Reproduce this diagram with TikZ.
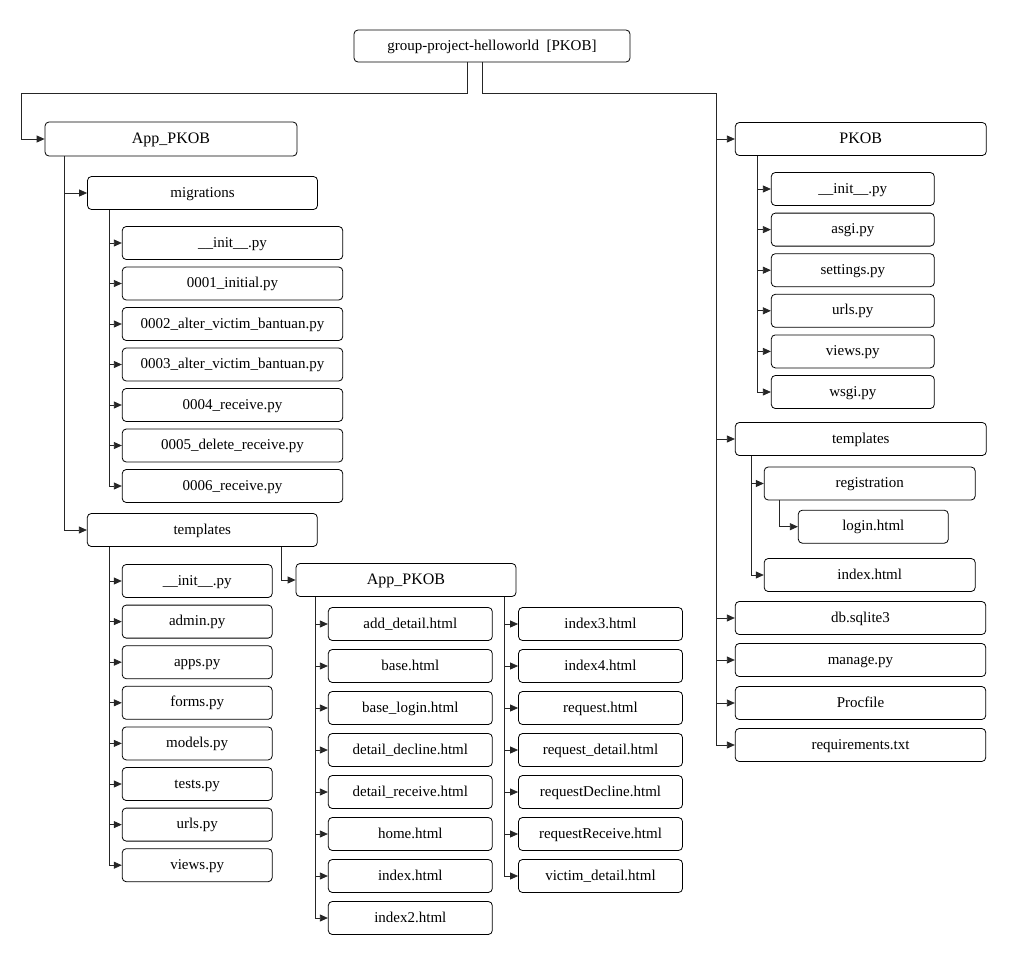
\documentclass[tikz,border=0pt]{standalone}
\usepackage{fontspec}
\setmainfont{Liberation Serif}
\usetikzlibrary{positioning,arrows.meta}

\begin{document}
\begin{tikzpicture}[x=1pt, y=-1pt,
        file/.style={draw=black, line width=0.8pt, rounded corners=4pt, minimum height=33pt, inner sep=0pt,
            text height=10pt, text depth=2pt, font=\fontsize{15}{18}\selectfont},
        arr/.style={-{Triangle[length=8pt,width=7pt]}, line width=0.8pt, draw=black!85}
    ]
        \useasboundingbox (0,0) rectangle (1020,964);

        % Root
        \node[file, minimum width=276, minimum height=32] (root) at (492,46) {group-project-helloworld~~[PKOB]};
        \coordinate (lbus) at (21,93);
        \coordinate (rbus) at (716,93);

        % App_PKOB (left)
        \node[file, minimum width=252, minimum height=34, font=\fontsize{16}{18}\selectfont] (app) at (171,139) {App\_PKOB};
        \draw[arr] ([xshift=-25]root.south) |- (lbus) |- (app.west);

        \node[file, minimum width=230] (mig) at (202.5,193) {migrations};
        \node[file, minimum width=230] (tpl) at (202.3,530) {templates};
        \draw[arr] ([xshift=20]app.south west) |- (mig.west);
        \draw[arr] ([xshift=20]app.south west) |- (tpl.west);

        % Migrations
        \foreach \f [count=\i] in {\_\_init\_\_.py, 0001\_initial.py, 0002\_alter\_victim\_bantuan.py,
            0003\_alter\_victim\_bantuan.py, 0004\_receive.py, 0005\_delete\_receive.py, 0006\_receive.py} {
            \node[file, minimum width=220.5] (mig\i) at (232.5,202.5+40.5*\i) {\f};
            \draw[arr] ([xshift=22]mig.south west) |- (mig\i.west);
        }

        % Templates (left)
        \foreach \f [count=\i] in {\_\_init\_\_.py, admin.py, apps.py, forms.py, models.py, tests.py, urls.py, views.py} {
            \node[file, minimum width=150] (tpl\i) at (197.2,540.4+40.6*\i) {\f};
            \draw[arr] ([xshift=22]tpl.south west) |- (tpl\i.west);
        }

        \node[file, minimum width=220, font=\fontsize{16}{18}\selectfont] (app2) at (406,580) {App\_PKOB};
        \draw[arr] ([xshift=-36]tpl.south east) |- (app2.west);

        % Html files
        \foreach \f [count=\i] in {add\_detail.html, base.html, base\_login.html, detail\_decline.html,
            detail\_receive.html, home.html, index.html, index2.html} {
            \node[file, minimum width=164] (htmlL\i) at (410.3,582+42*\i) {\f};
            \draw[arr] ([xshift=19.3]app2.south west) |- (htmlL\i.west);
        }
        \foreach \f [count=\i] in {index3.html, index4.html, request.html, request\_detail.html,
            requestDecline.html, requestReceive.html, victim\_detail.html} {
            \node[file, minimum width=164] (htmlR\i) at (600.5,582+42*\i) {\f};
            \draw[arr] ([xshift=-12]app2.south east) |- (htmlR\i.west);
        }

        % PKOB (right)
        \node[file, minimum width=251, font=\fontsize{16}{18}\selectfont] (pkob) at (860.8,139) {PKOB};
        \foreach \f [count=\i] in {\_\_init\_\_.py, asgi.py, settings.py, urls.py, views.py, wsgi.py} {
            \node[file, minimum width=163] (pk\i) at (852.8,148.4+40.6*\i) {\f};
            \draw[arr] ([xshift=22.4]pkob.south west) |- (pk\i.west);
        }

        % Templates (right)
        \node[file, minimum width=251] (rtpl) at (860.8,439) {templates};
        \node[file, minimum width=211] (reg) at (869.7,483.5) {registration};
        \node[file, minimum width=150] (login) at (873.3,526.7) {login.html};
        \node[file, minimum width=211] (rindex) at (869.7,575) {index.html};
        \draw[arr] ([xshift=16]rtpl.south west) |- (reg.west);
        \draw[arr] ([xshift=16]rtpl.south west) |- (rindex.west);
        \draw[arr] ([xshift=15.3]reg.south west) |- (login.west);

        % Root files
        \node[file, minimum width=250.5] (db) at (860.5,618) {db.sqlite3};
        \node[file, minimum width=250.5] (manage) at (860.5,660) {manage.py};
        \node[file, minimum width=250.5] (procfile) at (860.5,703) {Procfile};
        \node[file, minimum width=250.5] (req) at (860.5,745) {requirements.txt};

        \foreach \n in {pkob, rtpl, db, manage, procfile, req}
            \draw[arr] ([xshift=-10]root.south) |- (rbus) |- (\n.west);

    \end{tikzpicture}
\end{document}
